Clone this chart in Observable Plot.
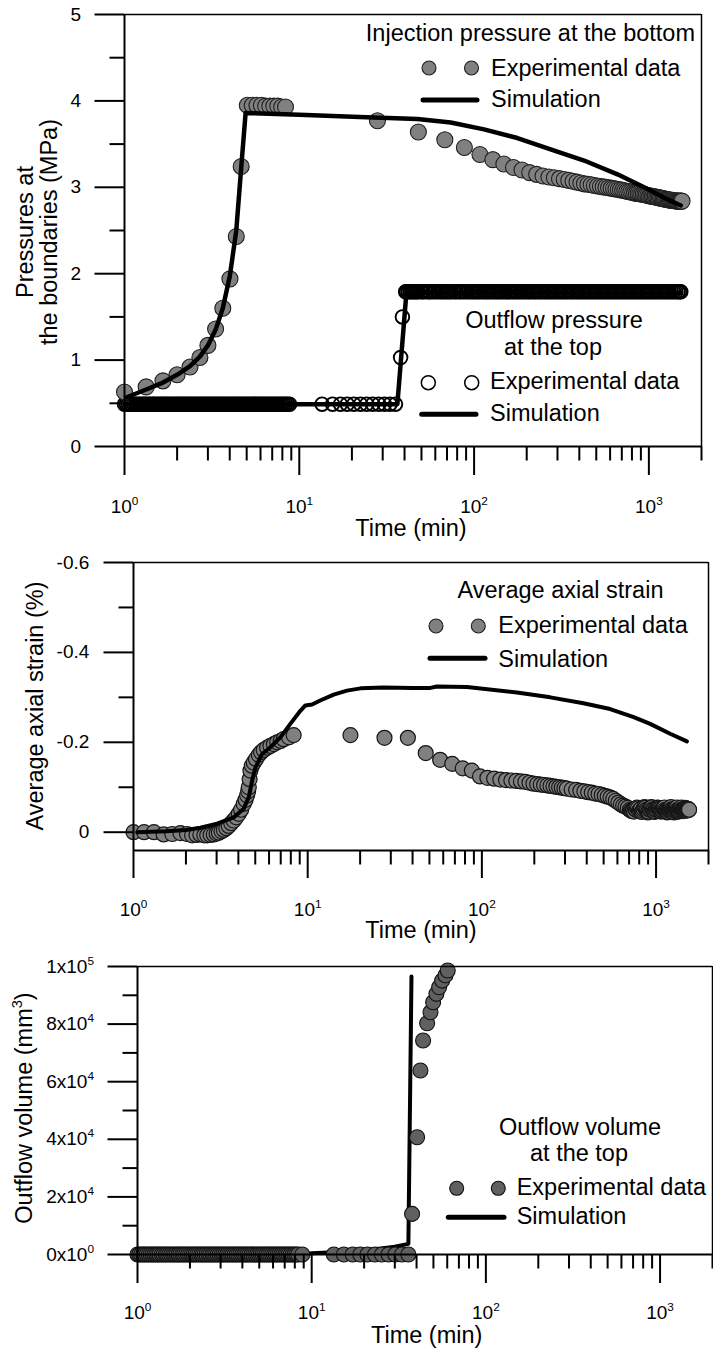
<!DOCTYPE html>
<html><head><meta charset="utf-8">
<script src="https://cdn.jsdelivr.net/npm/d3@7"></script>
<script src="https://cdn.jsdelivr.net/npm/@observablehq/plot@0.6"></script>
<style>
html,body{margin:0;padding:0;background:#fff;}
#chart{width:713px;}
#chart svg{display:block;}
</style></head><body><div id="chart"></div>
<script>
// ---------- axes / tick data ----------
const timeDomain = [1, 2000];
const xMajor = [1, 10, 100, 1000];
const xTickLabels = ["10^0", "10^1", "10^2", "10^3"];
const xMinor = [2,3,4,5,6,7,8,9,20,30,40,50,60,70,80,90,200,300,400,500,600,700,800,900,2000];

const pressDomain = [0, 5];
const pressTicks = [0, 1, 2, 3, 4, 5];
const pressTickLabels = ["0", "1", "2", "3", "4", "5"];
const pressMinor = [0.5, 1.5, 2.5, 3.5, 4.5];

const strainDomain = [0.0407, -0.6];
const strainTicks = [-0.6, -0.4, -0.2, 0];
const strainTickLabels = ["-0.6", "-0.4", "-0.2", "0"];
const strainMinor = [-0.5, -0.3, -0.1];

const volDomain = [0, 100000];
const volTicks = [0, 20000, 40000, 60000, 80000, 100000];
const volTickLabels = ["0x10^0", "2x10^4", "4x10^4", "6x10^4", "8x10^4", "1x10^5"];
const volMinor = [10000, 30000, 50000, 70000, 90000];

// ---------- panel 1: pressures (t [min], P [MPa]) ----------
const injExp = [
[1.00,0.63],[1.33,0.69],[1.66,0.76],[2.00,0.83],[2.37,0.92],[2.70,1.03],[3.00,1.17],[3.32,1.36],[3.65,1.60],[4.01,1.94],[4.36,2.43],[4.65,3.24],
[5.04,3.95],[5.38,3.95],[5.72,3.95],[6.07,3.95],[6.42,3.94],[6.78,3.94],[7.15,3.94],[7.53,3.94],[7.93,3.93],[8.34,3.93],
[28,3.77],[48,3.64],[68,3.55],[88,3.46],[108,3.38],[128,3.32],[148,3.27],[168,3.23],[188,3.20],[208,3.17],[228,3.15],[248,3.13],
[268,3.12],[288,3.11],[308,3.10],[328,3.09],[348,3.08],[368,3.07],[388,3.06],[408,3.05],[428,3.04],[448,3.035],[468,3.03],[488,3.02],
[508,3.015],[528,3.01],[548,3.005],[568,3.00],[588,2.995],[608,2.99],[628,2.985],[648,2.98],[668,2.975],[688,2.97],[708,2.965],[728,2.96],
[748,2.955],[768,2.95],[788,2.945],[808,2.94],[828,2.935],[848,2.93],[868,2.93],[888,2.925],[908,2.92],[928,2.92],[948,2.915],[968,2.91],
[988,2.905],[1008,2.90],[1028,2.90],[1048,2.895],[1068,2.89],[1088,2.89],[1108,2.885],[1128,2.88],[1148,2.88],[1168,2.875],[1188,2.87],
[1208,2.87],[1228,2.865],[1248,2.86],[1268,2.86],[1288,2.855],[1308,2.855],[1328,2.85],[1348,2.85],[1368,2.85],[1388,2.845],[1408,2.845],
[1428,2.845],[1448,2.84],[1468,2.84],[1488,2.84],[1508,2.84],[1528,2.84],[1548,2.84]
];
const injSim = [
[1.03,0.57],[1.33,0.66],[1.66,0.74],[2.00,0.83],[2.37,0.93],[2.70,1.04],[3.00,1.17],[3.32,1.35],[3.65,1.60],[4.01,1.98],[4.36,2.50],[4.65,3.22],
[4.93,3.86],[10,3.84],[22.1,3.815],[47.4,3.79],[73.5,3.75],[114,3.67],[177,3.57],[274,3.44],[426,3.31],[661,3.15],[939,3.00],[1277,2.86],[1523,2.79]
];
const outExp = [
[1.00,0.49],[1.025,0.49],[1.05,0.49],[1.08,0.49],[1.10,0.49],[1.13,0.49],[1.16,0.49],[1.19,0.49],[1.22,0.49],[1.25,0.49],[1.28,0.49],[1.31,0.49],
[1.34,0.49],[1.38,0.49],[1.41,0.49],[1.45,0.49],[1.48,0.49],[1.52,0.49],[1.56,0.49],[1.60,0.49],[1.64,0.49],[1.68,0.49],[1.72,0.49],[1.76,0.49],
[1.81,0.49],[1.85,0.49],[1.90,0.49],[1.95,0.49],[2.00,0.49],[2.05,0.49],[2.10,0.49],[2.15,0.49],[2.20,0.49],[2.26,0.49],[2.32,0.49],[2.37,0.49],
[2.43,0.49],[2.49,0.49],[2.56,0.49],[2.62,0.49],[2.69,0.49],[2.75,0.49],[2.82,0.49],[2.89,0.49],[2.96,0.49],[3.04,0.49],[3.11,0.49],[3.19,0.49],
[3.27,0.49],[3.35,0.49],[3.44,0.49],[3.52,0.49],[3.61,0.49],[3.70,0.49],[3.79,0.49],[3.89,0.49],[3.99,0.49],[4.09,0.49],[4.19,0.49],[4.29,0.49],
[4.40,0.49],[4.51,0.49],[4.62,0.49],[4.74,0.49],[4.86,0.49],[4.98,0.49],[5.10,0.49],[5.23,0.49],[5.36,0.49],[5.50,0.49],[5.63,0.49],[5.77,0.49],
[5.92,0.49],[6.07,0.49],[6.22,0.49],[6.37,0.49],[6.53,0.49],[6.70,0.49],[6.86,0.49],[7.04,0.49],[7.21,0.49],[7.39,0.49],[7.58,0.49],[7.77,0.49],
[7.96,0.49],[8.16,0.49],[8.37,0.49],[8.58,0.49],[8.80,0.49],
[13.5,0.49],[15.5,0.49],[17.2,0.49],[18.8,0.49],[20.5,0.49],[22.4,0.49],[24.3,0.49],[26.3,0.49],[28.5,0.49],[30.7,0.49],[33.0,0.49],[35.5,0.49],
[38.0,1.03],[38.9,1.50],
[40.6,1.79],[41,1.79],[42,1.79],[43,1.79],[44,1.79],[45,1.79],[46,1.79],[47,1.79],[48,1.79],[50,1.79],[51,1.79],[53,1.79],[55,1.79],[56,1.79],
[58,1.79],[60,1.79],[62,1.79],[64,1.79],[66,1.79],[68,1.79],[70,1.79],[72,1.79],[74,1.79],[77,1.79],[79,1.79],[82,1.79],[84,1.79],[87,1.79],
[90,1.79],[93,1.79],[96,1.79],[99,1.79],[102,1.79],[105,1.79],[108,1.79],[112,1.79],[115,1.79],[119,1.79],[122,1.79],[126,1.79],[130,1.79],
[134,1.79],[138,1.79],[142,1.79],[147,1.79],[151,1.79],[156,1.79],[161,1.79],[166,1.79],[171,1.79],[176,1.79],[182,1.79],[187,1.79],[193,1.79],
[199,1.79],[205,1.79],[211,1.79],[218,1.79],[224,1.79],[231,1.79],[238,1.79],[245,1.79],[253,1.79],[261,1.79],[269,1.79],[277,1.79],[285,1.79],
[294,1.79],[303,1.79],[312,1.79],[322,1.79],[331,1.79],[341,1.79],[352,1.79],[362,1.79],[373,1.79],[385,1.79],[396,1.79],[408,1.79],[421,1.79],
[434,1.79],[447,1.79],[460,1.79],[474,1.79],[489,1.79],[503,1.79],[519,1.79],[534,1.79],[551,1.79],[567,1.79],[584,1.79],[602,1.79],[620,1.79],
[639,1.79],[658,1.79],[678,1.79],[699,1.79],[720,1.79],[741,1.79],[764,1.79],[787,1.79],[811,1.79],[835,1.79],[860,1.79],[886,1.79],[913,1.79],
[941,1.79],[969,1.79],[998,1.79],[1028,1.79],[1059,1.79],[1091,1.79],[1124,1.79],[1158,1.79],[1193,1.79],[1229,1.79],[1266,1.79],[1304,1.79],
[1343,1.79],[1384,1.79],[1425,1.79],[1468,1.79],[1500,1.79],[1523,1.79]
];
const outSim = [[1.0,0.49],[36.4,0.49],[41.0,1.78],[1530,1.78]];

// ---------- panel 2: average axial strain (t [min], strain [%]) ----------
const strainExp = [
[1.00,0.000],[1.15,0.000],[1.31,0.000],[1.49,0.005],[1.67,0.004],[1.86,0.002],[2.03,0.004],[2.17,0.007],[2.30,0.006],[2.42,0.005],[2.55,0.007],
[2.65,0.007],[2.77,0.006],[2.89,0.005],[3.00,0.003],[3.09,0.001],[3.20,-0.002],[3.30,-0.005],[3.41,-0.009],[3.52,-0.014],[3.64,-0.020],[3.76,-0.026],
[3.89,-0.033],[4.02,-0.041],[4.15,-0.050],[4.29,-0.063],[4.40,-0.072],[4.49,-0.082],[4.55,-0.091],[4.59,-0.100],[4.64,-0.118],[4.69,-0.137],
[4.78,-0.148],[4.90,-0.155],[5.05,-0.163],[5.24,-0.172],[5.40,-0.178],[5.59,-0.183],[5.85,-0.188],[6.11,-0.192],[6.40,-0.196],[6.68,-0.200],
[7.00,-0.203],[7.28,-0.207],[7.80,-0.211],[8.31,-0.216],
[17.6,-0.216],[27.6,-0.210],[37.6,-0.210],[47.6,-0.176],[57.6,-0.161],[67.6,-0.152],[77.6,-0.142],[87.6,-0.137],[97.6,-0.124],
[107.6,-0.121],[117.6,-0.119],[127.6,-0.117],[137.6,-0.116],[147.6,-0.115],[157.6,-0.114],[167.6,-0.113],[177.6,-0.112],[187.6,-0.110],
[197.6,-0.108],[207.6,-0.107],[217.6,-0.106],[227.6,-0.105],[237.6,-0.104],[247.6,-0.103],[257.6,-0.102],[267.6,-0.101],[277.6,-0.100],
[287.6,-0.099],[297.6,-0.098],[307.6,-0.097],[327.6,-0.095],[347.6,-0.094],[367.6,-0.092],[387.6,-0.091],[407.6,-0.089],[427.6,-0.088],
[447.6,-0.086],[467.6,-0.085],[487.6,-0.083],[507.6,-0.081],[527.6,-0.079],[547.6,-0.077],[567.6,-0.074],[587.6,-0.070],[607.6,-0.066],
[627.6,-0.062],[647.6,-0.059],[667.6,-0.057],[687.6,-0.054],
[707.6,-0.050],[717.6,-0.048],[727.6,-0.047],[737.6,-0.049],[747.6,-0.046],[757.6,-0.052],[767.6,-0.050],[777.6,-0.055],[787.6,-0.053],
[797.6,-0.047],[807.6,-0.049],[817.6,-0.052],[827.6,-0.045],[837.6,-0.048],[847.6,-0.051],[857.6,-0.056],[867.6,-0.054],[877.6,-0.050],
[887.6,-0.048],[897.6,-0.044],[907.6,-0.046],[917.6,-0.050],[927.6,-0.052],[937.6,-0.056],[947.6,-0.055],[957.6,-0.051],[967.6,-0.049],
[977.6,-0.045],[987.6,-0.047],[997.6,-0.050],[1007.6,-0.051],[1017.6,-0.055],[1027.6,-0.054],[1037.6,-0.052],[1047.6,-0.050],[1057.6,-0.047],
[1067.6,-0.046],[1077.6,-0.048],[1087.6,-0.049],[1097.6,-0.052],[1107.6,-0.053],[1117.6,-0.055],[1127.6,-0.050],[1137.6,-0.048],[1147.6,-0.047],
[1157.6,-0.044],[1167.6,-0.045],[1177.6,-0.048],[1187.6,-0.050],[1197.6,-0.052],[1207.6,-0.054],[1217.6,-0.056],[1227.6,-0.051],[1237.6,-0.049],
[1247.6,-0.048],[1257.6,-0.046],[1267.6,-0.044],[1277.6,-0.047],[1287.6,-0.049],[1297.6,-0.051],[1307.6,-0.053],[1317.6,-0.055],[1327.6,-0.050],
[1337.6,-0.048],[1347.6,-0.046],[1357.6,-0.047],[1367.6,-0.049],[1377.6,-0.052],[1387.6,-0.053],[1397.6,-0.055],[1407.6,-0.051],[1417.6,-0.049],
[1427.6,-0.047],[1437.6,-0.048],[1447.6,-0.050],[1457.6,-0.052],[1467.6,-0.054],[1477.6,-0.053],[1487.6,-0.051],[1497.6,-0.049],[1507.6,-0.048],
[1517.6,-0.050],[1527.6,-0.052],[1537.6,-0.050],[1547.6,-0.050]
];
const strainSim = [
[1.05,0.000],[1.56,-0.002],[2.00,-0.005],[2.42,-0.010],[3.02,-0.019],[3.76,-0.033],[4.29,-0.052],[4.59,-0.078],[4.80,-0.115],[5.01,-0.144],
[5.47,-0.174],[6.11,-0.189],[6.97,-0.211],[7.95,-0.241],[9.08,-0.270],[9.70,-0.282],[10.6,-0.284],[11.8,-0.293],[14.1,-0.306],[16.8,-0.315],
[20.1,-0.320],[27.3,-0.322],[40,-0.321],[50.6,-0.321],[55.2,-0.324],[82.2,-0.323],[159,-0.311],[247,-0.300],[383,-0.287],[545,-0.274],
[744,-0.256],[925,-0.241],[1205,-0.219],[1503,-0.202]
];

// ---------- panel 3: outflow volume (t [min], V [mm3]) ----------
const volExp = [
[1.00,0],[1.025,0],[1.05,0],[1.08,0],[1.10,0],[1.13,0],[1.16,0],[1.19,0],[1.22,0],[1.25,0],[1.28,0],[1.31,0],
[1.34,0],[1.38,0],[1.41,0],[1.45,0],[1.48,0],[1.52,0],[1.56,0],[1.60,0],[1.64,0],[1.68,0],[1.72,0],[1.76,0],
[1.81,0],[1.85,0],[1.90,0],[1.95,0],[2.00,0],[2.05,0],[2.10,0],[2.15,0],[2.20,0],[2.26,0],[2.32,0],[2.37,0],
[2.43,0],[2.49,0],[2.56,0],[2.62,0],[2.69,0],[2.75,0],[2.82,0],[2.89,0],[2.96,0],[3.04,0],[3.11,0],[3.19,0],
[3.27,0],[3.35,0],[3.44,0],[3.52,0],[3.61,0],[3.70,0],[3.79,0],[3.89,0],[3.99,0],[4.09,0],[4.19,0],[4.29,0],
[4.40,0],[4.51,0],[4.62,0],[4.74,0],[4.86,0],[4.98,0],[5.10,0],[5.23,0],[5.36,0],[5.50,0],[5.63,0],[5.77,0],
[5.92,0],[6.07,0],[6.22,0],[6.37,0],[6.53,0],[6.70,0],[6.86,0],[7.04,0],[7.21,0],[7.39,0],[7.58,0],[7.77,0],
[7.96,0],[8.16,0],[8.37,0],[8.83,0],
[13.4,0],[15.3,0],[17.2,0],[19.0,0],[20.9,0],[23.1,0],[25.3,0],[27.6,0],[30.2,0],[33.0,0],[35.9,0],
[37.7,14100],[40.3,40700],[42.1,63900],[43.6,74300],[46.0,80300],[48.1,84100],[49.8,87600],[52.0,90500],[53.9,92800],[56.1,95100],
[58.6,96900],[60.4,98600]
];
const volSim = [[1,0],[8.8,0],[10,400],[13.4,800],[16.7,1000],[20,1500],[25,2100],[30,2700],[35.9,3700],[37.4,96500]];

// ---------- helpers ----------
const FONT = "'Liberation Sans', Arial, Helvetica, sans-serif";
const TITLE_FS = 23.5;
const TICK_FS = 19;

function frameAndAxes(yDomain, yTicks, yTickLabels, yMinor, xTickSize, xPad, yPad) {
  return [
    Plot.ruleY([yDomain[1]], {strokeWidth: 1.5}),
    Plot.ruleX([timeDomain[1]], {strokeWidth: 1.5}),
    Plot.ruleX([timeDomain[0]], {strokeWidth: 2}),
    Plot.ruleY([yDomain[0]], {strokeWidth: 2}),
    Plot.axisX({ticks: xMajor, tickSize: xTickSize, tickPadding: xPad, strokeWidth: 2, fontSize: TICK_FS, label: null,
      tickFormat: d => xTickLabels[xMajor.indexOf(d)]}),
    Plot.axisX({ticks: xMinor, tickSize: 14.5, strokeWidth: 2, label: null, tickFormat: () => ""}),
    Plot.axisY({ticks: yTicks, tickSize: 29.5, tickPadding: yPad, strokeWidth: 2, fontSize: TICK_FS, label: null,
      tickFormat: d => yTickLabels[yTicks.indexOf(d)]}),
    Plot.axisY({ticks: yMinor, tickSize: 14.5, strokeWidth: 2, label: null, tickFormat: () => ""})
  ];
}

function basePlot(opts, marks) {
  return Plot.plot({
    width: 713,
    ...opts,
    style: {fontFamily: FONT, fontSize: TICK_FS + "px", background: "#fff", color: "#000", overflow: "visible"},
    marks
  });
}

function addText(g, s, x, y, anchor, rotate) {
  const t = g.append("text").attr("font-size", TITLE_FS).attr("font-family", FONT)
    .attr("text-anchor", anchor || "start").attr("fill", "#000").text(s);
  if (rotate) t.attr("transform", `translate(${x},${y}) rotate(-90)`);
  else t.attr("x", x).attr("y", y);
  return t;
}

function legend(svg, L) {
  const g = d3.select(svg).append("g").attr("class", "legend");
  L.title.forEach(([s, x, y, a]) => addText(g, s, x, y, a));
  L.dots.forEach(([x, y]) => g.append("circle").attr("cx", x).attr("cy", y).attr("r", 7)
    .attr("fill", L.fill).attr("stroke", L.stroke).attr("stroke-width", L.sw));
  addText(g, "Experimental data", L.textX, L.expY);
  g.append("line").attr("x1", L.line[0]).attr("x2", L.line[1]).attr("y1", L.line[2]).attr("y2", L.line[2])
    .attr("stroke", "#000").attr("stroke-width", 5).attr("stroke-linecap", "round");
  addText(g, "Simulation", L.textX, L.simY);
}

function fixTicks(svg) {
  d3.select(svg).selectAll('g[aria-label$="tick label"]')
    .attr("font-size", TICK_FS).style("font-size", TICK_FS + "px").attr("font-family", FONT);
  d3.select(svg).selectAll('g[aria-label$="tick label"] text').style("font-size", TICK_FS + "px");
}

function superscripts(svg) {
  d3.select(svg).selectAll("text").each(function() {
    const s = this.textContent;
    const i = s.indexOf("^");
    if (i < 0) return;
    const fs = parseFloat(getComputedStyle(this).fontSize) || TICK_FS;
    const base = s.slice(0, i), sc = s.slice(i + 1, i + 2), rest = s.slice(i + 2);
    const el = d3.select(this);
    el.text(null);
    el.append("tspan").text(base);
    el.append("tspan").attr("dy", -0.42 * fs).style("font-size", (0.62 * fs).toFixed(1) + "px").text(sc);
    if (rest) el.append("tspan").attr("dy", 0.42 * fs).text(rest);
  });
}

const chart = document.getElementById("chart");

// ---------- panel 1 ----------
const p1 = basePlot({
  height: 540, marginTop: 14, marginBottom: 94, marginLeft: 124, marginRight: 12,
  x: {type: "log", domain: timeDomain}, y: {domain: pressDomain}
}, [
  Plot.dot(outExp, {r: 6.8, fill: "none", stroke: "#000", strokeWidth: 1.9}),
  Plot.dot(injExp, {r: 8, fill: "#808080", stroke: "#1e1e1e", strokeWidth: 1.1}),
  Plot.line(outSim, {stroke: "#000", strokeWidth: 4.5}),
  Plot.line(injSim, {stroke: "#000", strokeWidth: 4.5}),
  ...frameAndAxes(pressDomain, pressTicks, pressTickLabels, pressMinor, 29, 24, 14)
]);
chart.appendChild(p1);
{
  const g = d3.select(p1).append("g");
  addText(g, "Time (min)", 411, 536, "middle");
  addText(g, "Pressures at", 33, 232, "middle", true);
  addText(g, "the boundaries (MPa)", 57, 232, "middle", true);
}
legend(p1, {title: [["Injection pressure at the bottom", 695, 41, "end"]],
  dots: [[429, 68], [471.5, 68]], fill: "#808080", stroke: "#1e1e1e", sw: 1.1,
  textX: 491, expY: 76, line: [423, 477, 100], simY: 107});
legend(p1, {title: [["Outflow pressure", 554, 328, "middle"], ["at the top", 553, 355, "middle"]],
  dots: [[428.3, 382.7], [471.7, 382.7]], fill: "#fff", stroke: "#000", sw: 1.5,
  textX: 490, expY: 389, line: [421.7, 476, 414.3], simY: 421});
fixTicks(p1);
superscripts(p1);

// ---------- panel 2 ----------
const p2 = basePlot({
  height: 410, marginTop: 22, marginBottom: 100, marginLeft: 133, marginRight: 5,
  x: {type: "log", domain: timeDomain}, y: {domain: strainDomain}
}, [
  Plot.dot(strainExp, {r: 7.5, fill: "#808080", stroke: "#151515", strokeWidth: 1.2}),
  Plot.line(strainSim, {stroke: "#000", strokeWidth: 4}),
  ...frameAndAxes(strainDomain, strainTicks, strainTickLabels, strainMinor, 28, 24, 14.7)
]);
chart.appendChild(p2);
{
  const g = d3.select(p2).append("g");
  addText(g, "Time (min)", 421, 398, "middle");
  addText(g, "Average axial strain (%)", 43, 166, "middle", true);
}
legend(p2, {title: [["Average axial strain", 560.5, 58.3, "middle"]],
  dots: [[436, 86], [478.3, 86]], fill: "#808080", stroke: "#1e1e1e", sw: 1.1,
  textX: 498.3, expY: 93, line: [430, 485, 118.3], simY: 126.7});
fixTicks(p2);
superscripts(p2);

// ---------- panel 3 ----------
const p3 = basePlot({
  height: 402, marginTop: 16, marginBottom: 98, marginLeft: 137, marginRight: 1,
  x: {type: "log", domain: timeDomain}, y: {domain: volDomain}
}, [
  Plot.line(volSim, {stroke: "#000", strokeWidth: 4}),
  Plot.dot(volExp, {r: 7.5, fill: "#606060", stroke: "#111", strokeWidth: 1.1}),
  ...frameAndAxes(volDomain, volTicks, volTickLabels, volMinor, 29, 22, 14)
]);
chart.appendChild(p3);
{
  const g = d3.select(p3).append("g");
  addText(g, "Time (min)", 426.7, 393.3, "middle");
  addText(g, "Outflow volume (mm^3)", 32, 158, "middle", true);
}
legend(p3, {title: [["Outflow volume", 580, 185, "middle"], ["at the top", 579, 211, "middle"]],
  dots: [[456.7, 238.3], [498.3, 238.3]], fill: "#606060", stroke: "#111", sw: 1.1,
  textX: 516.7, expY: 245, line: [448.3, 504, 267.3], simY: 274});
fixTicks(p3);
superscripts(p3);
</script>
</body></html>
